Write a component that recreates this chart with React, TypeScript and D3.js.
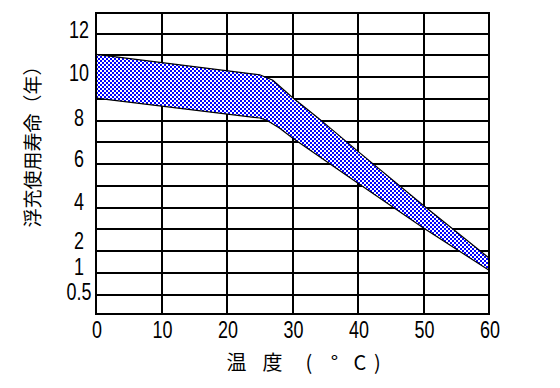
import React from "react";
import * as d3 from "d3";

// x: temperature (°C), y: float charge life (years)
const xTicks = [0, 10, 20, 30, 40, 50, 60];
const yTicks = [0.5, 1, 2, 4, 6, 8, 10, 12];
// where the y tick labels sit on the (uneven) axis, in px
const yTickPos = [292, 266.7, 241, 201.7, 159, 118, 72.5, 30];
const gridRows = [1, 2, 3, 4, 5, 6, 7, 8, 9, 10, 11, 12, 13];

const upperTemp = [0, 25, 27, 30, 34, 40, 50, 60];
const upperLife = [10.85, 9.9, 9.66, 8.9, 7.98, 6.37, 3.81, 1.34];
const lowerTemp = [0, 25, 26, 28, 30, 40, 50, 60];
const lowerLife = [8.87, 8.0, 7.9, 7.51, 7.02, 4.86, 2.66, 0.93];

const yTitle = "浮充使用寿命（年）";
const xTitle = ["温", "度", "(", "°", "C", ")"];
const xTitlePos = [236.5, 272.5, 309, 334.5, 360, 377.5];

const W = 560;
const H = 388;
const left = 96;
const right = 489;
const top = 13;
const bottom = 314;

export default function App() {
  const x = d3.scaleLinear().domain([0, 60]).range([left, right]);
  const y = d3.scaleLinear().domain(yTicks).range(yTickPos);
  const gridY = d3.scaleLinear().domain([1, 13]).range([294.5, 33.5]);

  const upper = upperTemp.map((t, i) => [t, upperLife[i]] as [number, number]);
  const lower = lowerTemp.map((t, i) => [t, lowerLife[i]] as [number, number]);

  const line = d3.line<[number, number]>().x(d => x(d[0])).y(d => y(d[1]));
  const area = line([...upper, ...lower.slice().reverse()]) + "Z";

  const numFont = "'Liberation Sans', Arimo, sans-serif";
  const cjkFont = "'Noto Sans CJK JP', 'Noto Sans CJK SC', sans-serif";

  return (
    <svg width={W} height={H} style={{ position: "absolute", left: 0, top: 0, background: "#fff" }}>
      <defs>
        <pattern id="chk" width="4" height="4" patternUnits="userSpaceOnUse">
          <rect width="4" height="4" fill="#fff" />
          <rect x="0" y="0" width="2" height="2" fill="#0000ff" />
          <rect x="2" y="2" width="2" height="2" fill="#0000ff" />
        </pattern>
      </defs>

      <g stroke="#000" strokeWidth={2} shapeRendering="crispEdges">
        {gridRows.map(r => (
          <line key={"h" + r} x1={left} x2={right} y1={gridY(r)} y2={gridY(r)} />
        ))}
        {xTicks.slice(1, -1).map(t => (
          <line key={"v" + t} x1={x(t)} x2={x(t)} y1={top} y2={bottom} />
        ))}
      </g>

      <path d={area} fill="url(#chk)" stroke="none" />
      <path d={line(upper) || ""} fill="none" stroke="#000" strokeWidth={1.2} />
      <path d={line(lower) || ""} fill="none" stroke="#000" strokeWidth={1.2} />

      <rect x={left} y={top} width={right - left} height={bottom - top}
        fill="none" stroke="#000" strokeWidth={2} shapeRendering="crispEdges" />

      <g fontFamily={numFont} fontSize={23} fill="#000" textAnchor="middle">
        {yTicks.map(v => (
          <text key={"y" + v} transform={`translate(79,${y(v)}) scale(0.78,1)`} dy="0.36em">{v}</text>
        ))}
        {xTicks.map(t => (
          <text key={"x" + t} transform={`translate(${x(t) + 1},330) scale(0.78,1)`} dy="0.36em">{t}</text>
        ))}
      </g>

      <text transform="translate(33,142) rotate(-90)" textAnchor="middle" dy="0.35em"
        fontFamily={cjkFont} fontSize={19} fill="#000">{yTitle}</text>

      <g fontFamily={cjkFont} fontSize={20} fill="#000" textAnchor="middle">
        {xTitle.map((c, i) => (
          <text key={i} x={xTitlePos[i]} y={363} dy="0.35em">{c}</text>
        ))}
      </g>
    </svg>
  );
}
